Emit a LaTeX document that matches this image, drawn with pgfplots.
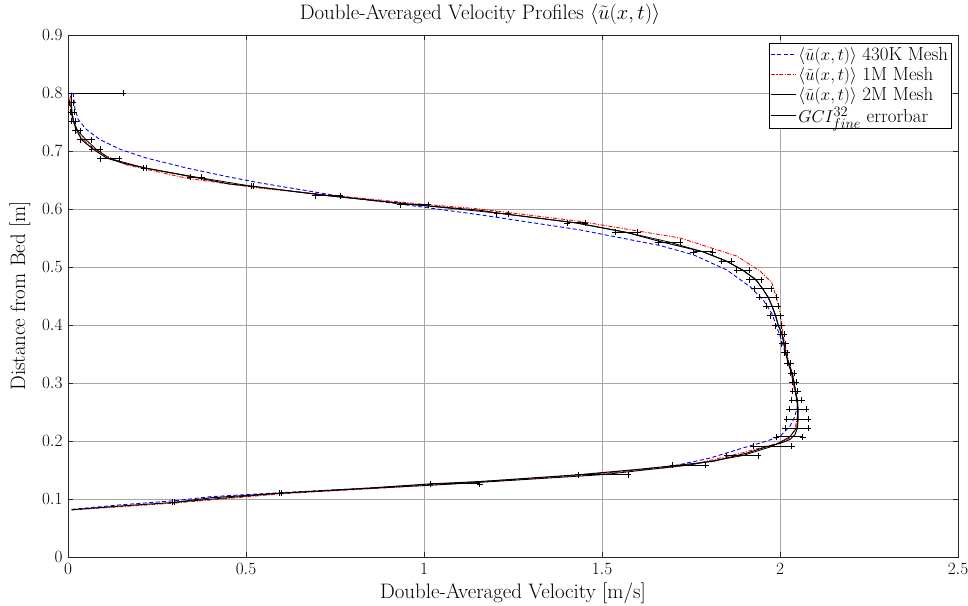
\documentclass[border=0pt]{standalone}
\usepackage{pgfplots}
\pgfplotsset{compat=1.18}
\usepackage{pgfplotstable}

\pgfplotstableread{
x y
0.010 0.0815
0.150 0.0880
0.296 0.0940
0.400 0.1020
0.5955 0.1100
0.850 0.1190
1.017 0.1260
1.157 0.1300
1.438 0.1420
1.600 0.1510
1.696 0.1570
1.813 0.1650
1.906 0.1790
1.962 0.1900
2.000 0.1960
2.028 0.2026
2.042 0.2110
2.049 0.2224
2.051 0.2380
2.051 0.2550
2.049 0.2700
2.044 0.2855
2.039 0.3010
2.033 0.3170
2.023 0.3340
2.016 0.3520
2.011 0.3680
2.006 0.3845
1.995 0.3990
1.988 0.4160
1.978 0.4320
1.967 0.4480
1.951 0.4626
1.933 0.4780
1.897 0.4940
1.850 0.5100
1.785 0.5260
1.663 0.5440
1.568 0.5597
1.4275 0.5760
1.220 0.5920
1.157 0.5977
0.9725 0.6075
0.729 0.6230
0.520 0.6390
0.455 0.6430
0.352 0.6550
0.216 0.6707
0.155 0.6790
0.109 0.6877
0.071 0.7030
0.038 0.7195
0.024 0.7370
0.015 0.7510
0.010 0.7665
0.009 0.7830
0.010 0.8000
}\meshtwo

\pgfplotstableread{
x y
0.010 0.0820
0.150 0.0900
0.300 0.0970
0.400 0.1040
0.600 0.1110
0.850 0.1190
1.017 0.1250
1.157 0.1300
1.438 0.1410
1.600 0.1500
1.700 0.1570
1.800 0.1700
1.897 0.1882
1.962 0.1997
2.000 0.2083
2.028 0.2255
2.042 0.2426
2.049 0.2600
2.042 0.2890
2.033 0.3170
2.018 0.3460
2.004 0.3745
1.990 0.3980
1.977 0.4200
1.953 0.4430
1.916 0.4660
1.850 0.4950
1.757 0.5210
1.663 0.5370
1.438 0.5640
1.157 0.5900
1.000 0.6030
0.764 0.6220
0.539 0.6450
0.446 0.6560
0.333 0.6707
0.221 0.6877
0.146 0.7030
0.090 0.7195
0.052 0.7370
0.029 0.7540
0.020 0.7710
0.015 0.7970
0.015 0.8000
}\meshone

\pgfplotstableread{
x y
0.010 0.0810
0.300 0.0930
0.600 0.1090
1.000 0.1230
1.438 0.1400
1.700 0.1550
1.757 0.1600
1.897 0.1800
1.962 0.1910
2.000 0.1970
2.028 0.2055
2.042 0.2200
2.049 0.2430
2.049 0.2710
2.037 0.3000
2.023 0.3405
2.009 0.3810
2.002 0.4150
1.990 0.4470
1.977 0.4730
1.944 0.4930
1.878 0.5190
1.719 0.5500
1.438 0.5787
1.157 0.6000
1.000 0.6080
0.750 0.6230
0.539 0.6360
0.333 0.6530
0.165 0.6760
0.100 0.6935
0.062 0.7090
0.024 0.7320
0.010 0.7610
0.005 0.7890
0.010 0.8000
}\meshmid

\pgfplotstableread{
x y e
0.296 0.0940 0.003
0.5955 0.1100 0.003
1.087 0.1260 0.070
1.5035 0.1420 0.0705
1.745 0.1586 0.046
1.8945 0.1747 0.0445
1.979 0.1910 0.054
2.027 0.2070 0.037
2.047 0.2224 0.033
2.0495 0.2380 0.0305
2.0495 0.2550 0.0235
2.047 0.2700 0.014
2.043 0.2855 0.007
2.040 0.3010 0.006
2.035 0.3170 0.005
2.025 0.3340 0.005
2.0155 0.3520 0.0045
2.0105 0.3680 0.0055
2.0055 0.3845 0.0055
1.9955 0.3990 0.0095
1.987 0.4160 0.015
1.978 0.4320 0.017
1.966 0.4480 0.024
1.9515 0.4626 0.0235
1.931 0.4780 0.017
1.896 0.4940 0.018
1.850 0.5100 0.014
1.784 0.5260 0.027
1.6885 0.5430 0.0305
1.5685 0.5597 0.0315
1.4275 0.5760 0.0245
1.2205 0.5920 0.0165
0.9725 0.6075 0.0395
0.729 0.6230 0.035
0.519 0.6390 0.003
0.3595 0.6550 0.0165
0.216 0.6707 0.003
0.117 0.6870 0.027
0.0785 0.7034 0.0115
0.0505 0.7195 0.0165
0.027 0.7350 0.007
0.016 0.7510 0.006
0.0115 0.7670 0.0055
0.0095 0.7830 0.0055
0.010 0.8000 0.145
}\gcierr

\begin{document}
\begin{tikzpicture}
\begin{axis}[
  scale only axis,
  width=890bp, height=522bp,
  xmin=0, xmax=2.5, ymin=0, ymax=0.9,
  xtick={0,0.5,1,1.5,2,2.5},
  ytick={0,0.1,0.2,0.3,0.4,0.5,0.6,0.7,0.8,0.9},
  yticklabel style={/pgf/number format/fixed,/pgf/number format/precision=1},
  grid=major,
  grid style={black!35, line width=0.5pt},
  axis line style={black!85, line width=0.6pt},
  tick style={black!85},
  major tick length=5bp,
  tick label style={font=\fontsize{16.5}{19}\selectfont},
  xticklabel style={yshift=-3bp},
  yticklabel style={xshift=-2bp},
  label style={font=\fontsize{21}{24}\selectfont},
  xlabel style={at={(rel axis cs:0.5,0)}, anchor=center, yshift=-36bp},
  ylabel style={at={(rel axis cs:-0.054,0.5)}, anchor=center},
  title style={font=\fontsize{21}{24}\selectfont, at={(rel axis cs:0.5,1)}, anchor=base, yshift=10bp, xshift=-33bp},
  title={Double-Averaged Velocity Profiles $\langle\tilde{u}(x,t)\rangle$},
  xlabel={Double-Averaged Velocity [m/s]},
  ylabel={Distance from Bed [m]},
  legend cell align=left,
  legend style={at={(rel axis cs:0.993,0.984)}, anchor=north east,
    font=\fontsize{19}{21}\selectfont,
    inner sep=1.5pt, row sep=1.5bp},
]
\addplot[blue, line width=0.9pt, dash pattern=on 4bp off 2.5bp, forget plot] table[x=x,y=y] {\meshone};
\addplot[red, line width=0.9pt, dash pattern=on 4bp off 1.5bp on 1bp off 1.5bp, forget plot] table[x=x,y=y] {\meshmid};
\addplot[black, line width=1pt, forget plot] table[x=x,y=y] {\meshtwo};
\addplot[black, line width=0.8pt, forget plot,
  error bars/.cd, x dir=both, x explicit, error mark=+,
  error mark options={black, mark size=3bp, line width=0.8pt},
  error bar style={line width=0.9pt}]
  table[x=x, y=y, x error=e] {\gcierr};
\addlegendimage{legend image code/.code={\draw[draw=blue, line width=1.1pt, dash pattern=on 4bp off 2.5bp] (0bp,0bp) -- (25bp,0bp);}}
\addlegendentry{$\langle\tilde{u}(x,t)\rangle$ 430K Mesh}
\addlegendimage{legend image code/.code={\draw[draw=red, line width=1.1pt, dash pattern=on 4bp off 1.5bp on 1.2bp off 1.5bp] (0bp,0bp) -- (25bp,0bp);}}
\addlegendentry{$\langle\tilde{u}(x,t)\rangle$ 1M Mesh}
\addlegendimage{legend image code/.code={\draw[draw=black, line width=1.1pt] (0bp,0bp) -- (25bp,0bp);}}
\addlegendentry{$\langle\tilde{u}(x,t)\rangle$ 2M Mesh}
\addlegendimage{legend image code/.code={\draw[draw=black, line width=1.1pt] (0bp,0bp) -- (25bp,0bp);}}
\addlegendentry{$GCI^{32}_{fine}$ errorbar}
\end{axis}
\pgfresetboundingbox
\path[use as bounding box] ([xshift=-68bp,yshift=-49bp]current axis.south west) rectangle ([xshift=10bp,yshift=35bp]current axis.north east);
\end{tikzpicture}
\end{document}
